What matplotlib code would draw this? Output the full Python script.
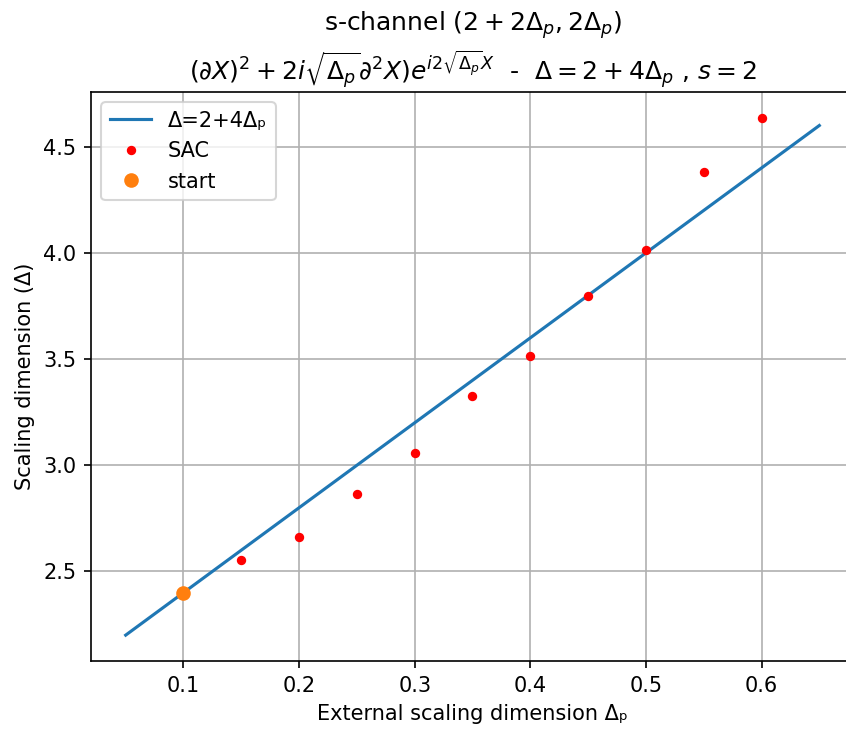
import numpy as np
import matplotlib
matplotlib.use('Agg')
import matplotlib.pyplot as plt

# line Delta = 2 + 4*Delta_p
line_x = [0.05, 0.65]
line_y = [2.2, 4.6]

# SAC results
sac_x = [0.15, 0.2, 0.25, 0.3, 0.35, 0.4, 0.45, 0.5, 0.55, 0.6]
sac_y = [2.552, 2.664, 2.864, 3.058, 3.326, 3.514, 3.796, 4.016, 4.383, 4.636]

# starting point
start_x = [0.1]
start_y = [2.4]

DPI = 150
W, H = 846, 731

fig = plt.figure(figsize=(W / DPI, H / DPI), dpi=DPI)
# axes box in pixels (right spine falls just outside the picture)
ax = fig.add_axes([91 / W, (H - 661) / H, (854 - 91) / W, (661 - 92) / H])

ax.plot(line_x, line_y, label='Δ=2+4Δₚ')
ax.plot(sac_x, sac_y, '.', color='red', markersize=7, label='SAC')
ax.plot(start_x, start_y, 'o', color='tab:orange', label='start')

ax.set_xlabel('External scaling dimension Δₚ')
ax.set_ylabel('Scaling dimension (Δ)')
ax.set_title('s-channel $(2+2\\Delta_p, 2\\Delta_p)$\n'
             '$(\\partial X)^2+2i\\sqrt{\\Delta_p}\\partial^2 X)e^{i2\\sqrt{\\Delta_p}X}$  -  '
             '$\\Delta=2+4\\Delta_p$ , $s=2$')

ax.grid(True)
ax.legend()

fig.savefig('out.png', dpi=DPI)
